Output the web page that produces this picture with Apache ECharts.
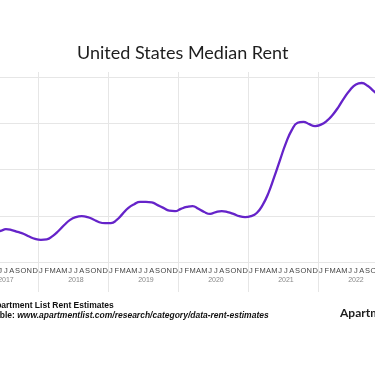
<!DOCTYPE html>
<html>
<head>
<meta charset="utf-8">
<script src="https://cdn.jsdelivr.net/npm/echarts@6/dist/echarts.min.js"></script>
<style>
html,body{margin:0;padding:0;background:#fff;overflow:hidden;width:375px;height:366px;}
#chart{position:absolute;left:-85px;top:0;width:480px;height:366px;}
</style>
</head>
<body>
<div id="chart"></div>
<script>
// Months Jan 2017 .. Dec 2022
const years = [2017, 2018, 2019, 2020, 2021, 2022];
const monthLetters = ['J','F','M','A','M','J','J','A','S','O','N','D'];
// Median rent (USD), Jan 2017 .. Nov 2022
const rent = [
  1041, 1048, 1056, 1065, 1069, 1067, 1071, 1069, 1065, 1061, 1055, 1050,
  1048, 1049, 1056, 1067, 1080, 1091, 1097, 1099, 1097, 1092, 1086, 1084,
  1084, 1091, 1104, 1117, 1125, 1130, 1130, 1129, 1123, 1117, 1111, 1110,
  1115, 1119, 1121, 1115, 1108, 1104, 1108, 1110, 1108, 1104, 1099, 1097,
  1099, 1106, 1123, 1149, 1184, 1221, 1257, 1285, 1301, 1303, 1298, 1294,
  1297, 1305, 1318, 1335, 1355, 1372, 1384, 1387, 1381, 1370, 1359
];
const yTicks = { min: 1000, max: 1400, step: 100 };

const categories = [];
years.forEach(y => monthLetters.forEach((m, i) => categories.push(y + '-' + (i + 1))));

const yearTick = (idx) => idx % 12 === 0;
const gridColor = '#e6e6e6';

const chart = echarts.init(document.getElementById('chart'), null, {renderer: 'canvas'});
chart.setOption({
  animation: false,
  backgroundColor: '#ffffff',
  textStyle: { fontFamily: 'Liberation Sans, Arial, sans-serif' },
  title: [
    {
      text: 'United States Median Rent',
      left: 157, top: 39,
      textStyle: { fontFamily: 'Lato, sans-serif', fontSize: 18, fontWeight: 'normal', color: '#1e1e1e' }
    },
    {
      text: '{b|Source: }{n|Apartment List Rent Estimates}',
      left: 36, top: 296,
      textStyle: { rich: {
        b: { fontFamily: 'Liberation Sans', fontSize: 8.5, fontWeight: 'bold', color: '#111' },
        n: { fontFamily: 'Liberation Sans', fontSize: 8.5, color: '#111' }
      } }
    },
    {
      text: '{b|Available: }{u|www.apartmentlist.com/research/category/data-rent-estimates}',
      left: 55, top: 306,
      textStyle: { rich: {
        b: { fontFamily: 'Liberation Sans', fontSize: 8.5, fontWeight: 'bold', color: '#111' },
        u: { fontFamily: 'Liberation Sans', fontSize: 8.5, fontStyle: 'italic', color: '#111' }
      } }
    },
    {
      text: 'Apartment List',
      left: 420, top: 302,
      textStyle: { fontFamily: 'Lato, sans-serif', fontSize: 12, fontWeight: 'bold', color: '#1e1e1e' }
    }
  ],
  grid: { left: 53, right: 7, top: 77, bottom: 104, containLabel: false },
  xAxis: [
    {
      type: 'category',
      data: categories,
      position: 'bottom',
      boundaryGap: true,
      axisLine: { show: false },
      axisTick: { show: true, inside: false, length: 30, interval: yearTick, lineStyle: { color: gridColor, width: 1 } },
      axisLabel: {
        interval: 0, margin: 5,
        formatter: (v) => monthLetters[parseInt(v.split('-')[1], 10) - 1],
        fontSize: 7.5, color: '#444', fontFamily: 'Liberation Sans'
      },
      splitLine: { show: false }
    },
    {
      type: 'category',
      data: categories,
      position: 'bottom',
      boundaryGap: true,
      axisLine: { show: false },
      axisTick: { show: true, inside: true, length: 190, interval: yearTick, lineStyle: { color: gridColor, width: 1 } },
      axisLabel: {
        interval: (idx) => idx % 12 === 6,
        margin: 15,
        formatter: (v) => v.split('-')[0],
        fontSize: 7, color: '#888', fontFamily: 'Liberation Sans'
      },
      splitLine: { show: false }
    }
  ],
  yAxis: {
    type: 'value',
    min: yTicks.min, max: yTicks.max, interval: yTicks.step,
    axisLine: { show: false },
    axisTick: { show: false },
    axisLabel: { show: true, color: '#444', fontSize: 8 },
    splitLine: { show: true, lineStyle: { color: gridColor, width: 1 } }
  },
  series: [{
    type: 'line',
    xAxisIndex: 0,
    data: rent,
    smooth: true,
    symbol: 'none',
    lineStyle: { color: '#6523c9', width: 2.3 },
    z: 5
  }]
});
</script>
</body>
</html>
